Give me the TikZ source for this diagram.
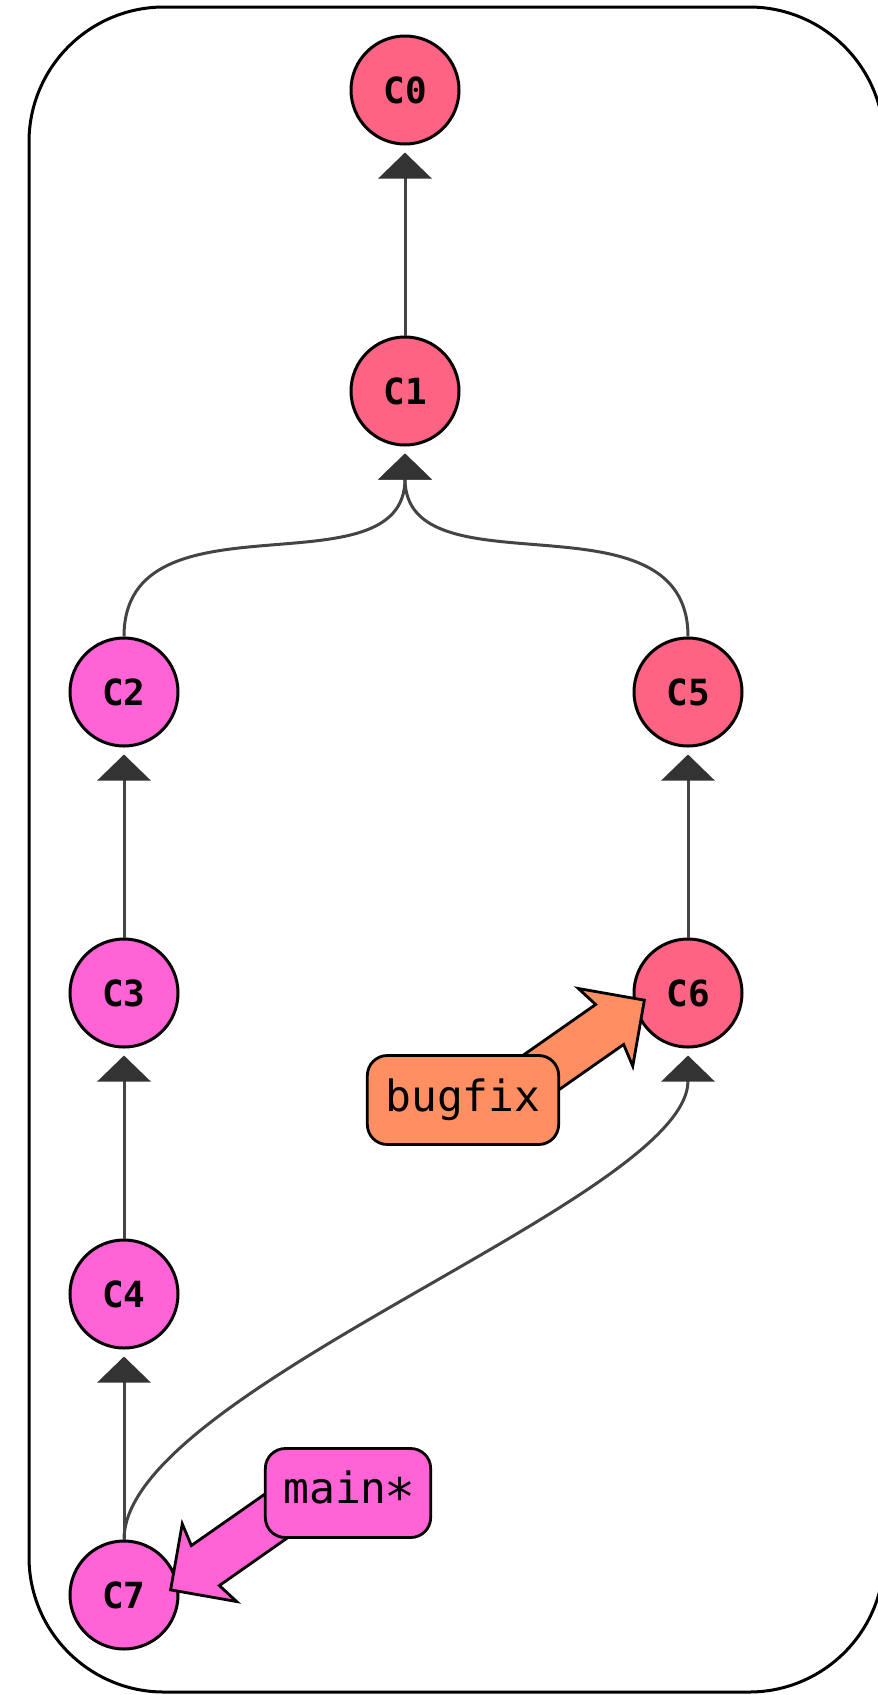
\documentclass[tikz,border=0pt]{standalone}
\usepackage{fontspec}
\setmonofont{DejaVu Sans Mono}
\usetikzlibrary{arrows.meta,shapes.arrows,calc}

\definecolor{commitred}{HTML}{FF6384}
\definecolor{commitpink}{HTML}{FF63D6}
\definecolor{bugorange}{HTML}{FF8F62}
\definecolor{edgegray}{HTML}{444444}
\definecolor{tipgray}{HTML}{333333}
\newcommand\midstar{\makebox[0.6em]{\raisebox{-0.27em}{\scalebox{1.2}{*}}}}

\begin{document}
\begin{tikzpicture}[x=1pt,y=-1pt,
  commit/.style={circle,draw,line width=3pt,minimum size=108pt,inner sep=0pt,
    font=\ttfamily\bfseries\fontsize{36}{40}\selectfont},
  edge/.style={draw=edgegray,line width=3pt,shorten >=7pt,
    -{Triangle[width=53pt,length=26pt,color=tipgray]}},
  branch/.style={draw,line width=2.8pt,rounded corners=20pt,minimum height=89pt,
    inner xsep=18pt,font=\ttfamily\fontsize{43}{48}\selectfont},
  pointer/.style={single arrow,draw,line width=2.8pt,inner xsep=0pt,inner ysep=23pt,
    single arrow head extend=23pt,single arrow head indent=5pt,minimum height=200pt,anchor=tip}]
\useasboundingbox (0,0) rectangle (878,1695);
\draw[line width=3pt,rounded corners=135pt] (29,7) rectangle (884,1692);
% commits
\foreach \N/\X/\Y/\Col in {C0/405/90/commitred, C1/405/391/commitred,
  C2/124/692/commitpink, C5/688/692/commitred, C3/124/993/commitpink,
  C6/688/993/commitred, C4/124/1294/commitpink, C7/124/1595/commitpink}
  \node[commit,fill=\Col] (\N) at (\X,\Y) {\N};
% parents
\foreach \A/\B in {C1/C0,C3/C2,C4/C3,C7/C4,C6/C5}
  \draw[edge] (\A.north) -- (\B.south);
\draw[edge] (C2.north) .. controls +(0,-150) and +(0,150) .. (C1.south);
\draw[edge] (C5.north) .. controls +(0,-150) and +(0,150) .. (C1.south);
\draw[edge] (C7.north) .. controls +(0,-150) and +(0,150) .. (C6.south);
% branches
\node[pointer,fill=bugorange,rotate=35] (bugfix-arrow) at ($(C6.center)+(-42,6)$) {};
\node[pointer,fill=commitpink,rotate=215] (main-arrow) at ($(C7.center)+(45,-4)$) {};
\node[branch,fill=bugorange] (bugfix) at (463,1100) {bugfix};
\node[branch,fill=commitpink] (main) at (348,1493) {main\midstar};
\end{tikzpicture}
\end{document}
